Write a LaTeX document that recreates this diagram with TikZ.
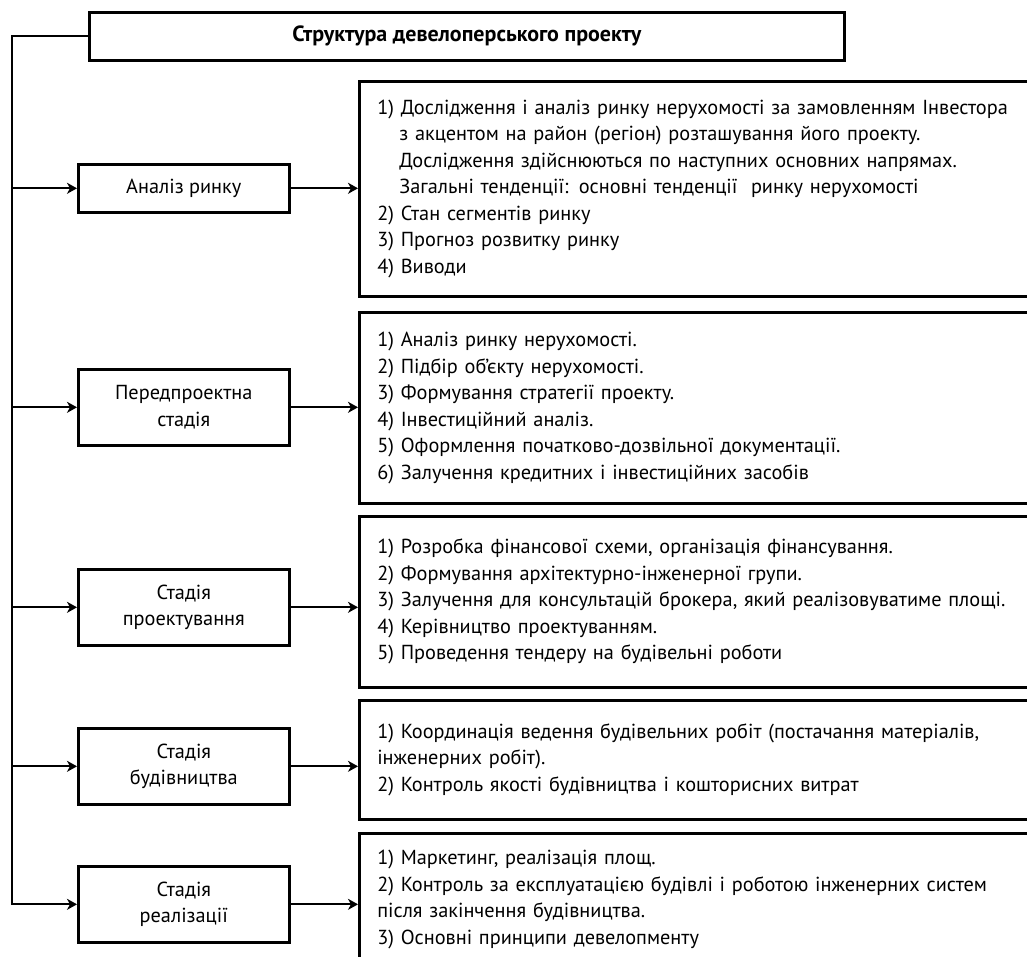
\documentclass[tikz,border=0pt]{standalone}
\usepackage{fontspec}
\setmainfont{PT Sans}
\usetikzlibrary{arrows.meta}
\begin{document}
\begin{tikzpicture}[x=1pt,y=-1pt,
  txt/.style={font=\fontsize{20.3}{26.5}\selectfont},
  lbox/.style={draw, line width=2.6pt, anchor=north west, minimum width=211pt, minimum height=76pt, align=center, inner sep=0pt, txt},
  rbox/.style={draw, line width=2.6pt, anchor=north west, text width=660pt, inner xsep=18pt, inner ysep=0pt, align=left, txt},
  titlebox/.style={draw, line width=2.6pt, anchor=north west, minimum width=755pt, minimum height=48pt, inner sep=0pt, font=\fontsize{22}{26}\selectfont\bfseries},
  conn/.style={line width=2pt},
  arr/.style={conn, -{Stealth[length=10pt,width=11pt,inset=3pt]}}
]
\useasboundingbox (0,0) rectangle (1027,956);
\clip (0,0) rectangle (1027,956);

\node[titlebox] (title) at (88,11) {Структура девелоперського проекту};

\node[lbox, minimum height=48pt] (l1) at (77,163) {Аналіз ринку};
\node[lbox] (l2) at (77,368) {Передпроектна\\стадія};
\node[lbox] (l3) at (77,568) {Стадія\\проектування};
\node[lbox] (l4) at (77,727) {Стадія\\будівництва};
\node[lbox] (l5) at (77,865) {Стадія\\реалізації};

\node[rbox, minimum height=215pt] (r1) at (358,80) {1) Дослідження і аналіз ринку нерухомості за замовленням Інвестора\\
\hspace*{22pt}з акцентом на район (регіон) розташування його проекту.\\
\hspace*{22pt}Дослідження здійснюються по наступних основних напрямах.\\
\hspace*{22pt}Загальні тенденції: основні тенденції\ \ ринку нерухомості\\
2) Стан сегментів ринку\\
3) Прогноз розвитку ринку\\
4) Виводи};

\node[rbox, minimum height=191pt] (r2) at (358,311) {1) Аналіз ринку нерухомості.\\
2) Підбір об'єкту нерухомості.\\
3) Формування стратегії проекту.\\
4) Інвестиційний аналіз.\\
5) Оформлення початково-дозвільної документації.\\
6) Залучення кредитних і інвестиційних засобів};

\node[rbox, minimum height=171pt] (r3) at (358,515) {1) Розробка фінансової схеми, організація фінансування.\\
2) Формування архітектурно-інженерної групи.\\
3) Залучення для консультацій брокера, який реалізовуватиме площі.\\
4) Керівництво проектуванням.\\
5) Проведення тендеру на будівельні роботи};

\node[rbox, minimum height=119pt] (r4) at (358,699) {1) Координація ведення будівельних робіт (постачання матеріалів,\\
інженерних робіт).\\
2) Контроль якості будівництва і кошторисних витрат};

\node[rbox, minimum height=132pt] (r5) at (358,832) {1) Маркетинг, реалізація площ.\\
2) Контроль за експлуатацією будівлі і роботою інженерних систем\\
після закінчення будівництва.\\
3) Основні принципи девелопменту};

\coordinate (x0) at (12,0);
\coordinate (top) at (title.west -| x0);

\draw[arr] (title.west) -- (top) -- (top |- l5.west) -- (l5.west);
\foreach \i in {1,2,3,4} {
  \draw[arr] (top |- l\i.west) -- (l\i.west);
}
\foreach \i in {1,2,3,4,5} {
  \draw[arr] (l\i.east) -- (l\i.east -| r\i.west);
}
\end{tikzpicture}
\end{document}
